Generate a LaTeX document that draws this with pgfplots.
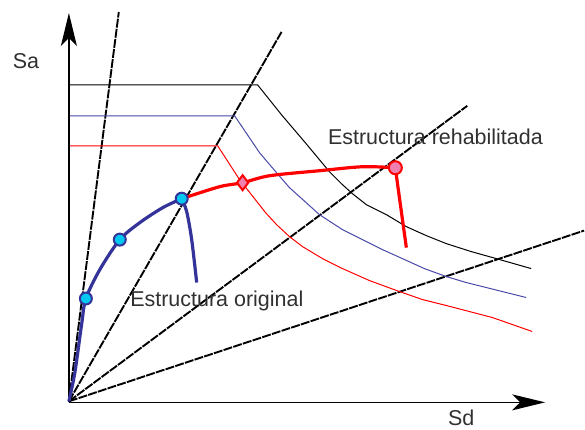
\documentclass[border=0pt]{standalone}
\usepackage{pgfplots}
\pgfplotsset{compat=1.18}
\usetikzlibrary{arrows.meta}
\usepackage{fontspec}
\setmainfont{Liberation Sans}
\definecolor{capblue}{HTML}{333399}
\definecolor{specblue}{HTML}{4848A8}
\definecolor{mcyan}{HTML}{00C8F0}
\definecolor{mpink}{HTML}{F080B0}
\definecolor{txt}{HTML}{303030}
\begin{document}
\begin{tikzpicture}
\begin{axis}[scale only axis, width=585pt, height=428pt,
  xmin=0, xmax=585, ymin=0, ymax=428, y dir=reverse,
  hide axis, clip=false]
% bounding box
\addplot[draw=none] coordinates {(0,0) (585,428)};
% radial period lines
\addplot[black, line width=1.9pt, dash pattern=on 9pt off 1.2pt] coordinates {(69,402) (119,12)};
\addplot[black, line width=1.9pt, dash pattern=on 9pt off 1.2pt] coordinates {(69,402) (282,32)};
\addplot[black, line width=1.9pt, dash pattern=on 9pt off 1.2pt] coordinates {(69,402) (468,106)};
\addplot[black, line width=1.9pt, dash pattern=on 9pt off 1.2pt] coordinates {(69,402) (585,231)};
% demand spectra
\addplot[draw=black, line width=1pt, line join=round] coordinates {(69,85) (258,85) (282,115) (305,142) (330,172) (342,184) (353,194) (367,205) (387,215) (407,227) (427,236) (447,244) (472,252) (497,259) (532,269)};
\addplot[draw=specblue, line width=1pt, line join=round] coordinates {(69,116) (235,116) (260,153) (277,173) (290,188) (300,197) (320,215) (343,230) (363,240) (383,250) (403,259) (425,269) (447,277) (467,283) (487,288) (527,298)};
\addplot[draw=red, line width=1pt, line join=round] coordinates {(69,146) (218,146) (240,180) (255,199) (266,213) (277,225) (290,237) (303,247) (323,259) (343,269) (370,281) (400,292) (423,300) (447,306) (470,312) (493,318) (533,332)};
% axes
\addplot[black, line width=1.3pt, -{Stealth[length=33pt, width=16pt, inset=8pt]}] coordinates {(69,403) (69,13)};
\addplot[black, line width=1.3pt, -{Stealth[length=33pt, width=16pt, inset=8pt]}] coordinates {(69,403) (546,403)};
% rehabilitated capacity curve
\addplot[red, line width=3.2pt, smooth] coordinates {(182,199) (220,187) (243,183) (270,176) (320,171) (363,167) (396,168)};
\addplot[red, line width=3.2pt] coordinates {(396,168) (398,183) (407,248)};
% original capacity curve
\addplot[capblue, line width=3.2pt, smooth] coordinates {(69,402) (75,373) (82,323) (86,299) (100,270) (120,240) (140,223) (163,208) (182,199)};
\addplot[capblue, line width=3.2pt, smooth] coordinates {(182,199) (187,212) (192,240) (197,283)};
% markers
\addplot[only marks, mark=*, mark size=6pt, mark options={draw=capblue, fill=mcyan, line width=2pt}] coordinates {(86,299) (120,240) (182,199)};
\addplot[only marks, mark=diamond*, mark size=7.5pt, mark options={draw=red, fill=mpink, line width=2pt}] coordinates {(243,183)};
\addplot[only marks, mark=*, mark size=6.5pt, mark options={draw=red, fill=mpink, line width=2pt}] coordinates {(396,168)};
% labels
\node[txt, font=\fontsize{21.5}{24}\selectfont] at (axis cs:26,61) {Sa};
\node[txt, font=\fontsize{21.5}{24}\selectfont] at (axis cs:462,419) {Sd};
\node[txt, font=\fontsize{21.5}{24}\selectfont, anchor=west] at (axis cs:127,301) {Estructura original};
\node[txt, font=\fontsize{21.5}{24}\selectfont, anchor=west] at (axis cs:325,137) {Estructura rehabilitada};
\end{axis}
\end{tikzpicture}
\end{document}
